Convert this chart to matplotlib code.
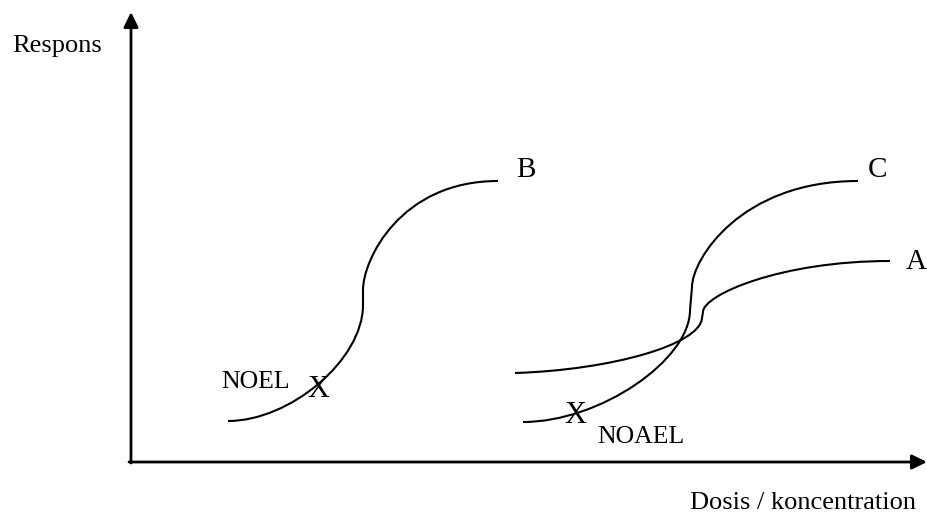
import matplotlib
matplotlib.use("Agg")
import matplotlib.pyplot as plt
from matplotlib.path import Path
from matplotlib.patches import PathPatch

plt.rcParams["font.family"] = ["Liberation Serif", "DejaVu Serif"]

# Curve control points in picture pixels (x right, y down).
# Each curve: move, cubic (lower half), line (inflection), cubic (upper half)
B_x = [228, 290, 363, 363, 363, 363, 400, 498]
B_y = [421, 421, 360, 305, 290, 260, 181, 181]

C_x = [523, 600, 690, 690, 692, 692, 740, 858]
C_y = [422, 422, 360, 310, 287, 260, 181, 181]

A_x = [515, 610, 700, 702, 703, 703, 780, 890]
A_y = [373, 370, 345, 318, 312, 295, 261, 261]

CODES = [Path.MOVETO, Path.CURVE4, Path.CURVE4, Path.CURVE4,
         Path.LINETO, Path.CURVE4, Path.CURVE4, Path.CURVE4]

# labels: (text, x, y, size)
labels = [
    ("Respons", 12, 52, 19),
    ("Dosis / koncentration", 690, 509, 19),
    ("B", 516, 177, 21),
    ("C", 868, 177, 21),
    ("A", 906, 269, 21),
    ("NOEL", 221, 388, 18.5),
    ("X", 307, 397, 22),
    ("X", 564, 423, 22),
    ("NOAEL", 597, 443, 18.5),
]

W, H = 928, 517
fig = plt.figure(figsize=(W / 100, H / 100), dpi=100)
ax = fig.add_axes([0, 0, 1, 1])
ax.set_xlim(0, W)
ax.set_ylim(H, 0)
ax.axis("off")

for xs, ys in [(B_x, B_y), (C_x, C_y), (A_x, A_y)]:
    path = Path(list(zip(xs, ys)), CODES)
    ax.add_patch(PathPatch(path, facecolor="none", edgecolor="black",
                           lw=1.5, capstyle="butt"))

# axes with arrows
arrow = dict(arrowstyle="-|>,head_length=0.45,head_width=0.22", color="black",
             lw=2, mutation_scale=20, shrinkA=0, shrinkB=0)
ax.annotate("", xy=(131, 12), xytext=(131, 463), arrowprops=arrow)
ax.annotate("", xy=(927, 462), xytext=(129, 462), arrowprops=arrow)

for text, x, y, size in labels:
    ax.text(x, y, text, fontsize=size, ha="left", va="baseline")

fig.savefig("out.png", dpi=100)
